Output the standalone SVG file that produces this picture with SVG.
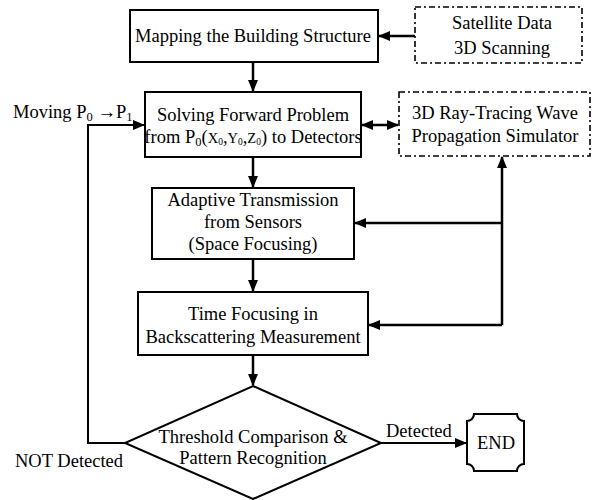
<svg xmlns="http://www.w3.org/2000/svg" width="594" height="500" viewBox="0 0 594 500">
<style>
.box{fill:#fff;stroke:#000;stroke-width:2}
.dash{fill:#fff;stroke:#000;stroke-width:1.6;stroke-dasharray:6 3 2 3}
.t{font-family:"Liberation Serif","Times New Roman",serif;font-size:18.5px;fill:#000;text-anchor:middle}
.l{font-family:"Liberation Serif","Times New Roman",serif;font-size:18.5px;fill:#000}
.c{fill:none;stroke:#000;stroke-width:2.5}
.s{font-size:12.5px}
.m{font-size:14.5px}
.xs{font-size:9.5px}
</style>
<defs>
<marker id="ah" markerUnits="userSpaceOnUse" markerWidth="12" markerHeight="10" refX="11" refY="5" orient="auto-start-reverse">
<path d="M0,0 L12,5 L0,10 z" fill="#000"/>
</marker>
</defs>
<g id="connectors">
<line class="c" x1="415" y1="36" x2="379" y2="36" marker-end="url(#ah)"/>
<line class="c" x1="253" y1="62" x2="253" y2="91" marker-end="url(#ah)"/>
<line class="c" x1="362" y1="125" x2="398" y2="125" marker-start="url(#ah)" marker-end="url(#ah)"/>
<line class="c" x1="253" y1="157" x2="253" y2="187" marker-end="url(#ah)"/>
<line class="c" x1="253" y1="259" x2="253" y2="291" marker-end="url(#ah)"/>
<line class="c" x1="253" y1="355" x2="253" y2="385" marker-end="url(#ah)"/>
<path class="c" d="M502,325 V157" marker-end="url(#ah)"/>
<line class="c" x1="502" y1="223" x2="355" y2="223" marker-end="url(#ah)"/>
<line class="c" x1="502" y1="325" x2="369" y2="325" marker-end="url(#ah)"/>
<path class="c" style="stroke-width:2" d="M125,443 H88 V125 H144" marker-end="url(#ah)"/>
<line class="c" style="stroke-width:2" x1="381" y1="443" x2="466" y2="443" marker-end="url(#ah)"/>
<text class="l" x="386" y="437">Detected</text>
<text class="l" x="15" y="467">NOT Detected</text>
<text class="l" x="13" y="118">Moving P<tspan class="s" dy="3">0</tspan><tspan dy="-3"> →P</tspan><tspan class="s" dy="3">1</tspan></text>
</g>
<g id="mapping">
<rect class="box" x="130" y="10" width="248" height="52"/>
<text class="t" x="253" y="42">Mapping the Building Structure</text>
</g>
<g id="satellite">
<rect class="dash" x="415" y="7" width="167" height="56"/>
<text class="t" x="502" y="29">Satellite Data</text>
<text class="t" x="502" y="54">3D Scanning</text>
</g>
<g id="solving">
<rect class="box" x="145" y="92" width="216" height="65"/>
<text class="t" x="253" y="121">Solving Forward Problem</text>
<text class="t" x="253" y="143">from P<tspan class="s" dy="3">0</tspan><tspan dy="-3">(</tspan><tspan class="m">X</tspan><tspan class="xs" dy="2">0</tspan><tspan dy="-2">,</tspan><tspan class="m">Y</tspan><tspan class="xs" dy="2">0</tspan><tspan dy="-2">,</tspan><tspan class="m">Z</tspan><tspan class="xs" dy="2">0</tspan><tspan dy="-2">) to Detectors</tspan></text>
</g>
<g id="raytracing">
<rect class="dash" x="399" y="92" width="191" height="64"/>
<text class="t" x="495" y="119">3D Ray-Tracing Wave</text>
<text class="t" x="495" y="142">Propagation Simulator</text>
</g>
<g id="adaptive">
<rect class="box" x="152" y="188" width="202" height="71"/>
<text class="t" x="253" y="206">Adaptive Transmission</text>
<text class="t" x="253" y="228">from Sensors</text>
<text class="t" x="253" y="250">(Space Focusing)</text>
</g>
<g id="timefocus">
<rect class="box" x="138" y="292" width="230" height="63"/>
<text class="t" x="253" y="320">Time Focusing in</text>
<text class="t" x="253" y="343">Backscattering Measurement</text>
</g>
<g id="threshold">
<polygon class="box" points="253,386 381,443 253,499 125,443"/>
<text class="t" x="253" y="443">Threshold Comparison &amp;</text>
<text class="t" x="253" y="464">Pattern Recognition</text>
</g>
<g id="end">
<path class="box" d="M474,414 H517 A7,7 0 0 0 524,421 V464 A7,7 0 0 0 517,471 H474 A7,7 0 0 0 467,464 V421 A7,7 0 0 0 474,414 Z"/>
<text class="t" x="496" y="449">END</text>
</g>
</svg>
